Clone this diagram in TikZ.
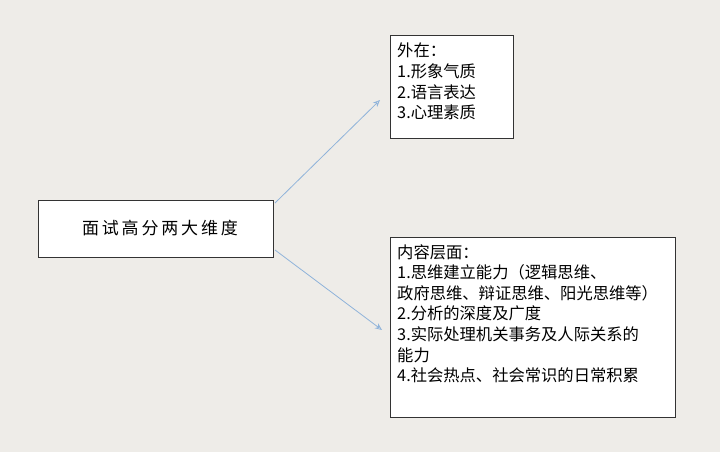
\documentclass[tikz,border=0pt]{standalone}
\usepackage{fontspec}
\usetikzlibrary{arrows.meta}
\newfontfamily\cjk{Noto Sans CJK SC}
\definecolor{bg}{HTML}{EEECE8}
\definecolor{arr}{HTML}{8FB3DA}
\begin{document}
\begin{tikzpicture}[x=1pt,y=-1pt,
  box/.style={draw=black!80,fill=white,line width=0.8pt,inner sep=0pt},
  txt/.style={font=\cjk\fontsize{16.3}{20.6}\selectfont,align=left,anchor=north west,inner sep=0pt},
  conn/.style={draw=arr,line width=0.8pt,-{Stealth[length=7pt,width=6pt,open]}}]
\fill[bg] (0,0) rectangle (720,452);
\useasboundingbox (0,0) rectangle (720,452);
\draw[box] (38,200) rectangle (273,257);
\node[txt,anchor=center,font=\cjk\fontsize{17}{20}\selectfont] (a) at (160,228.5) {面\,试\,高\,分\,两\,大\,维\,度};
\draw[box] (390,35) rectangle (513,138);
\node[txt] (b) at (397,43) {外在：\\1.形象气质\\2.语言表达\\3.心理素质};
\draw[box] (390,237) rectangle (675,417);
\node[txt] (c) at (397,244) {内容层面：\\1.思维建立能力（逻辑思维、\\政府思维、辩证思维、阳光思维等）\\2.分析的深度及广度\\3.实际处理机关事务及人际关系的\\能力\\4.社会热点、社会常识的日常积累};
\coordinate (s1) at (275,203);
\coordinate (e1) at (380,100);
\coordinate (s2) at (275,250);
\coordinate (e2) at (382,330);
\draw[conn] (s1) -- (e1);
\draw[conn] (s2) -- (e2);
\end{tikzpicture}
\end{document}
